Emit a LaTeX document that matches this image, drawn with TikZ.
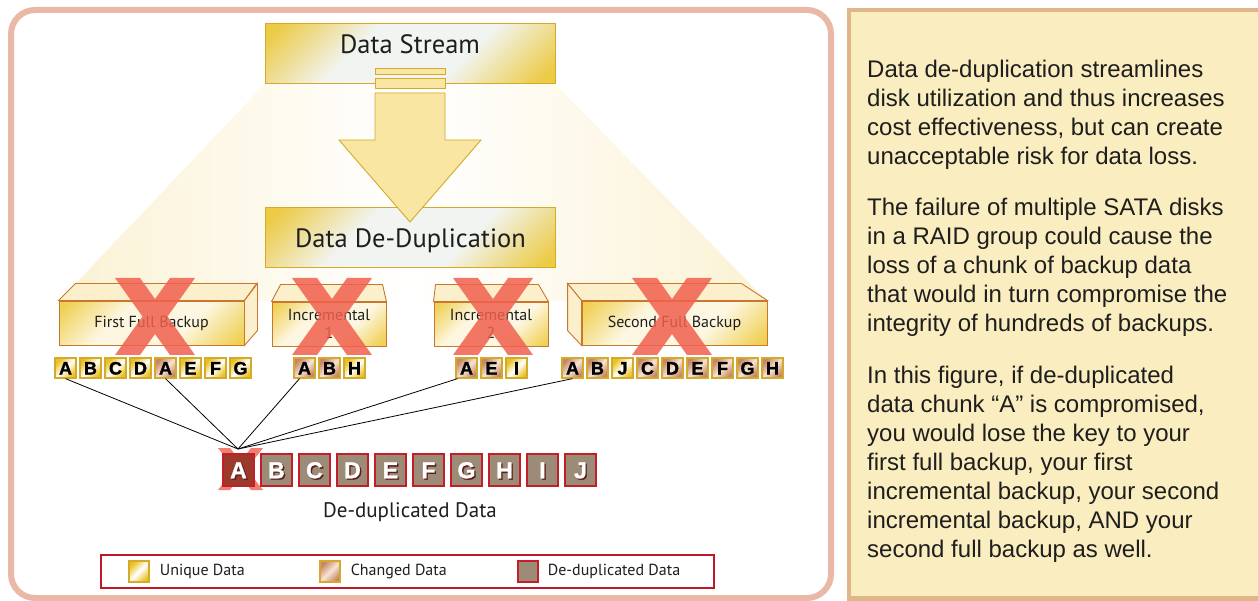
\documentclass[tikz,border=0pt]{standalone}
\usepackage{fontspec}
\setmainfont{Liberation Sans}
\newfontfamily\diafont{PT Sans}
\newfontfamily\chunkfont{Liberation Sans}[BoldFeatures={FakeBold=1.3}]
\usetikzlibrary{positioning, calc}
\definecolor{frameRose}{HTML}{E9B8A6}
\definecolor{panelFill}{HTML}{FAEDBF}
\definecolor{panelRule}{HTML}{DEB68A}
\definecolor{goldTone}{HTML}{EBC11E}
\definecolor{paleGlow}{HTML}{F1F4F0}
\definecolor{goldRule}{HTML}{D3AA2B}
\definecolor{arrowFill}{HTML}{F8E6A2}
\definecolor{beamTone}{HTML}{FBF2D4}
\definecolor{boxRule}{HTML}{C9772F}
\definecolor{lidFill}{HTML}{FBF0CB}
\definecolor{frontPale}{HTML}{FDF7E2}
\definecolor{crossRed}{HTML}{F1604F}
\definecolor{copperTone}{HTML}{C98660}
\definecolor{copperPale}{HTML}{F6E4D6}
\definecolor{dedupFill}{HTML}{9C8B77}
\definecolor{dedupRule}{HTML}{C21F2B}
\definecolor{dedupShadow}{HTML}{5B1E1A}
\definecolor{lostFill}{HTML}{9B3A2B}
\definecolor{inkDark}{HTML}{1E1E1E}
\definecolor{legendRule}{HTML}{C0182A}

% degradado dorado solo en las esquinas
\pgfdeclareverticalshading{glowbox}{100bp}{color(0bp)=(goldTone); color(18bp)=(goldTone!80!paleGlow);
  color(38bp)=(paleGlow); color(62bp)=(paleGlow); color(82bp)=(goldTone!80!paleGlow); color(100bp)=(goldTone)}
\pgfdeclareverticalshading{glowfront}{100bp}{color(0bp)=(goldTone); color(18bp)=(goldTone!70!frontPale);
  color(38bp)=(frontPale); color(62bp)=(frontPale); color(82bp)=(goldTone!70!frontPale); color(100bp)=(goldTone)}

\newcommand{\emboss}[1]{\rlap{\kern1.4pt\raisebox{-1.4pt}{\textcolor{dedupShadow}{#1}}}#1}

\tikzset{
  titlebox/.style={draw=goldRule, line width=1, shade, shading=glowbox, shading angle=45,
    minimum width=290, minimum height=60, inner sep=0, text=inkDark,
    font=\diafont\fontsize{26.5}{30}\selectfont},
  flow/.style={draw=goldRule, line width=0.9, fill=arrowFill},
  front/.style={draw=boxRule, line width=0.9, shade, shading=glowfront, shading angle=45,
    minimum height=44, inner sep=0, text=inkDark, font=\diafont\fontsize{16}{18}\selectfont},
  lid/.style={draw=boxRule, line width=0.9, fill=lidFill},
  cross/.style={fill=crossRed, fill opacity=0.85},
  chunk/.style={minimum width=21, minimum height=20, inner sep=0, line width=1.3,
    draw=goldRule, text height=13, text depth=0,
    font=\chunkfont\bfseries\fontsize{18}{18}\selectfont},
  uniq/.style={chunk, top color=goldTone, bottom color=goldTone, middle color=white,
    shading angle=45},
  chng/.style={chunk, top color=copperTone, bottom color=copperTone,
    middle color=copperPale, shading angle=45},
  dedup/.style={minimum width=31, minimum height=32, inner sep=0, line width=2,
    draw=dedupRule, fill=dedupFill, text=white, text height=16.5, text depth=0,
    font=\chunkfont\bfseries\fontsize{23}{23}\selectfont},
  lost/.style={dedup, fill=lostFill},
  link/.style={draw=black, line width=0.8},
  keytext/.style={inner sep=0, text=inkDark, font=\diafont\fontsize{16}{18}\selectfont},
  note/.style={inner sep=0, align=left, text=inkDark, font=\fontsize{24}{29}\selectfont}
}

\begin{document}
\begin{tikzpicture}[x=1pt, y=-1pt]
  \useasboundingbox (0,0) rectangle (1258,601);
  \fill[white] (0,0) rectangle (1258,601);

  % marco y panel lateral
  \draw[frameRose, line width=6, rounded corners=24] (11,10) rectangle (831,598);
  \draw[panelRule, fill=panelFill, line width=4.5] (849,10) rectangle (1270,598.5);

  % haz de luz
  \shade[left color=beamTone, right color=beamTone, middle color=white]
    (265,84) -- (555,84) -- (767,301) -- (59,301) -- cycle;

  % cajas de proceso
  \node[titlebox, text height=19, text depth=19] (stream) at (410,53.5) {Data Stream};
  \node[titlebox, text depth=0] (dedup) at (410.5,238) {Data De-Duplication};

  % barras y flecha
  \draw[flow] (375,68) rectangle (445,74);
  \draw[flow] (375,78) rectangle (445,88);
  \draw[flow] (375,93) -- (445,93) -- (445,140) -- (481,140) -- (410,222)
    -- (339,140) -- (375,140) -- cycle;

  % copias de seguridad
  \node[front, minimum width=185] (ffb) at (151.5,323) {First Full Backup};
  \draw[lid] (ffb.north west) -- ++(17,-17) -- ++(181,0) -- (ffb.north east) -- cycle;
  \draw[lid] (ffb.north east) -- ++(13,-17) -- ++(0,47) -- (ffb.south east) -- cycle;

  \node[front, minimum width=114, align=center] (inc1) at (329,324) {Incremental\\1};
  \draw[lid] (inc1.north west) -- ++(9,-17) -- ++(102,0) -- (inc1.north east) -- cycle;

  \node[front, minimum width=114, align=center] (inc2) at (491,324) {Incremental\\2};
  \draw[lid] (inc2.north west) -- ++(2,-17) -- ++(103,0) -- (inc2.north east) -- cycle;

  \node[front, minimum width=185] (sfb) at (674.5,323) {Second Full Backup};
  \draw[lid] (sfb.north west) -- ++(-14,-17) -- ++(174,0) -- (sfb.north east) -- cycle;
  \draw[lid] (sfb.north west) -- ++(-14,-17) -- ++(0,47) -- (sfb.south west) -- cycle;

  % cruces
  \foreach \c in {155,332,493,672}
    \fill[cross] (\c-40,278) -- (\c-15,278) -- (\c+40,355) -- (\c+15,355) -- cycle
      (\c+15,278) -- (\c+40,278) -- (\c-15,355) -- (\c-40,355) -- cycle;

  % bloques de cada copia
  \foreach \l/\k [count=\i from 0] in {A/uniq,B/uniq,C/uniq,D/uniq,A/chng,E/uniq,F/uniq,G/uniq}
    \node[\k] (ff\i) at (65.5+25*\i,368) {\l};
  \foreach \l/\k [count=\i from 0] in {A/chng,B/chng,H/uniq}
    \node[\k] (ia\i) at (304.5+25*\i,368) {\l};
  \foreach \l/\k [count=\i from 0] in {A/chng,E/chng,I/uniq}
    \node[\k] (ib\i) at (466.5+25*\i,368) {\l};
  \foreach \l/\k [count=\i from 0] in {A/chng,B/chng,J/uniq,C/chng,D/chng,E/chng,F/chng,G/chng,H/chng}
    \node[\k] (sf\i) at (572.5+25*\i,368) {\l};

  % bloque perdido
  \fill[crossRed, fill opacity=0.8] (218,448) -- (230,448) -- (263,490) -- (251,490) -- cycle
    (251,448) -- (263,448) -- (230,490) -- (218,490) -- cycle;

  % datos deduplicados
  \foreach \l/\k [count=\i from 0] in {A/lost,B/dedup,C/dedup,D/dedup,E/dedup,F/dedup,G/dedup,H/dedup,I/dedup,J/dedup}
    \node[\k] (dd\i) at (238.5+38*\i,470) {\emboss{\l}};
  \node[keytext, font=\diafont\fontsize{21}{24}\selectfont] (ddlabel) at (410,512) {De-duplicated Data};

  % referencias al bloque A
  \coordinate (hub) at (238,449);
  \draw[link] (ff0.south) -- (hub);
  \draw[link] (ff4.south) -- (hub);
  \draw[link] ([xshift=-5pt]ia0.south) -- (hub);
  \draw[link] ([xshift=-9pt]ib0.south) -- (hub);
  \draw[link] (sf0.south) -- (hub);

  % leyenda
  \node[draw=legendRule, line width=1.5, minimum width=613, minimum height=33, inner sep=0] (key) at (407.5,571.5) {};
  \node[uniq, minimum width=20, minimum height=21] (kuniq) at (139,571.5) {};
  \node[keytext, right=10pt of kuniq] (tuniq) {Unique Data};
  \node[chng, minimum width=20, minimum height=21] (kchng) at (330,571.5) {};
  \node[keytext, right=10pt of kchng] (tchng) {Changed Data};
  \node[dedup, minimum width=20, minimum height=21, line width=1.3] (kdedup) at (528,571.5) {};
  \node[keytext, right=9pt of kdedup] (tdedup) {De-duplicated Data};

  % texto explicativo
  \node[note, anchor=base west] (note) at (867,557) {%
    Data de-duplication streamlines\\
    disk utilization and thus increases\\
    cost effectiveness, but can create\\
    unacceptable risk for data loss.\\[22.5pt]
    The failure of multiple SATA disks\\
    in a RAID group could cause the\\
    loss of a chunk of backup data\\
    that would in turn compromise the\\
    integrity of hundreds of backups.\\[22.5pt]
    In this figure, if de-duplicated\\
    data chunk “A” is compromised,\\
    you would lose the key to your\\
    first full backup, your first\\
    incremental backup, your second\\
    incremental backup, AND your\\
    second full backup as well.};
\end{tikzpicture}
\end{document}
